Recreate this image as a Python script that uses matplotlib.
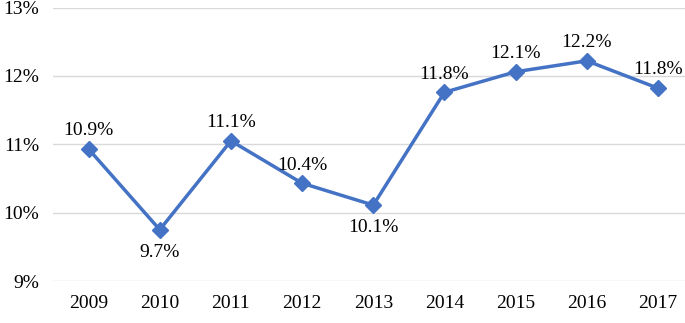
import matplotlib.pyplot as plt

years = ["2009", "2010", "2011", "2012", "2013", "2014", "2015", "2016", "2017"]
rates = [10.93, 9.75, 11.05, 10.43, 10.11, 11.76, 12.06, 12.22, 11.82]
labels = ["10.9%", "9.7%", "11.1%", "10.4%", "10.1%", "11.8%", "12.1%", "12.2%", "11.8%"]
below = [False, True, False, False, True, False, False, False, False]

plt.rcParams['font.family'] = ['Liberation Serif', 'DejaVu Serif']

fig = plt.figure(figsize=(6.85, 3.23), dpi=100)
ax = fig.add_axes([53 / 685, 1 - 281 / 323, 1 - 53 / 685, (281 - 7.5) / 323])

x = list(range(len(years)))
ax.plot(x, rates, color="#4472C4", linewidth=2.5, marker="D", markersize=8, zorder=3)

for xi, yi, lab, b in zip(x, rates, labels, below):
    if b:
        ax.annotate(lab, (xi, yi), xytext=(0, -10), textcoords="offset points",
                    ha="center", va="top", fontsize=14)
    else:
        ax.annotate(lab, (xi, yi), xytext=(0, 7), textcoords="offset points",
                    ha="center", va="bottom", fontsize=14)

ax.set_xlim(-0.5, 8.38)
ax.set_ylim(9, 13)
ax.set_xticks(x)
ax.set_xticklabels(years, fontsize=14)
ax.set_yticks([9, 10, 11, 12, 13])
ax.set_yticklabels(["9%", "10%", "11%", "12%", "13%"], fontsize=14)
ax.tick_params(length=0, pad=10)
ax.grid(axis="y", color="#d9d9d9", linewidth=1)
ax.set_axisbelow(True)
for s in ax.spines.values():
    s.set_visible(False)

fig.savefig("out.png", dpi=100)
